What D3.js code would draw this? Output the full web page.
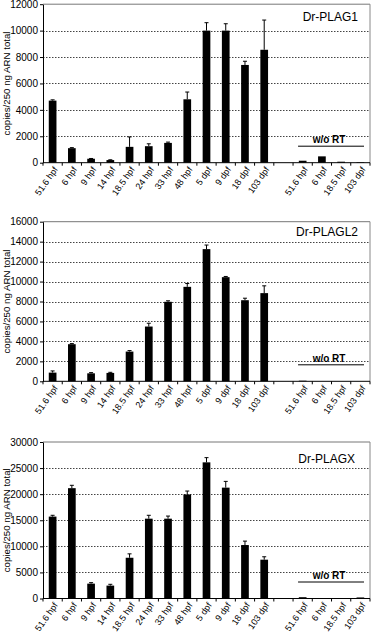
<!DOCTYPE html>
<html>
<head>
<meta charset="utf-8">
<script src="https://cdn.jsdelivr.net/npm/d3@7"></script>
<style>
  html, body { margin: 0; padding: 0; background: #fff; }
  svg { display: block; font-family: Arial, "Liberation Sans", sans-serif; }
</style>
</head>
<body>
<svg id="chart" width="372" height="637"></svg>
<script>
// ---- data ----
const mainCategories = ["51.6 hpf", "6 hpf", "9 hpf", "14 hpf", "18.5 hpf", "24 hpf", "33 hpf", "48 hpf", "5 dpf", "9 dpf", "18 dpf", "103 dpf"];
const rtCategories = ["51.6 hpf ", "6 hpf ", "18.5 hpf ", "103 dpf "];
const gapKey = "__gap__";

const plag1Values = [4700, 1100, 300, 200, 1200, 1250, 1500, 4800, 10000, 10000, 7400, 8550];
const plag1Errors = [60, 40, 20, 20, 750, 180, 60, 550, 600, 520, 280, 2250];
const plag1RtValues = [150, 480, 75, 40];

const plagl2Values = [870, 3720, 800, 840, 2980, 5490, 7970, 9470, 13250, 10440, 8130, 8840];
const plagl2Errors = [170, 60, 70, 60, 100, 330, 100, 330, 410, 70, 200, 730];
const plagl2RtValues = [60, 0, 0, 0];

const plagxValues = [15700, 21150, 2850, 2470, 7810, 15300, 15300, 19950, 26100, 21250, 10250, 7440];
const plagxErrors = [250, 550, 190, 250, 750, 650, 500, 650, 900, 1200, 750, 560];
const plagxRtValues = [250, 0, 0, 200];

const plag1Ticks = [0, 2000, 4000, 6000, 8000, 10000, 12000];
const plagl2Ticks = [0, 2000, 4000, 6000, 8000, 10000, 12000, 14000, 16000];
const plagxTicks = [0, 5000, 10000, 15000, 20000, 25000, 30000];

const yTitle = "copies/250 ng ARN total";
const rtLabel = "w/o RT";

// ---- layout ----
const panels = [
  { name: "Dr-PLAG1", values: plag1Values, errors: plag1Errors, rt: plag1RtValues, ticks: plag1Ticks,
    top: 4.2, bottom: 162.7, titleX: 358, titleY: 21 },
  { name: "Dr-PLAGL2", values: plagl2Values, errors: plagl2Errors, rt: plagl2RtValues, ticks: plagl2Ticks,
    top: 221.7, bottom: 381.3, titleX: 358, titleY: 236 },
  { name: "Dr-PLAGX", values: plagxValues, errors: plagxErrors, rt: plagxRtValues, ticks: plagxTicks,
    top: 442, bottom: 598.5, titleX: 355, titleY: 463 }
];
const left = 43, right = 370;

const svg = d3.select("#chart");
const domain = [...mainCategories, gapKey, ...rtCategories];
const pad = 0.6;
const x = d3.scaleBand().domain(domain).range([left, right]).paddingInner(pad).paddingOuter(pad / 2);
const step = x.step();

panels.forEach(p => {
  const g = svg.append("g");
  const y = d3.scaleLinear().domain([0, p.ticks[p.ticks.length - 1]]).range([p.bottom, p.top]);

  // gridlines
  g.append("g").selectAll("line").data(p.ticks.slice(1, -1)).join("line")
    .attr("x1", left).attr("x2", right)
    .attr("y1", d => Math.round(y(d)) + 0.5).attr("y2", d => Math.round(y(d)) + 0.5)
    .attr("stroke", "#444").attr("stroke-width", 1).attr("stroke-dasharray", "1.5,1.5");

  // top and right border
  g.append("line").attr("x1", left).attr("x2", right)
    .attr("y1", y(p.ticks[p.ticks.length - 1])).attr("y2", y(p.ticks[p.ticks.length - 1]))
    .attr("stroke", "#777").attr("stroke-width", 1);
  g.append("line").attr("x1", right).attr("x2", right)
    .attr("y1", p.top).attr("y2", p.bottom)
    .attr("stroke", "#888").attr("stroke-width", 1);

  // bars
  const rows = mainCategories.map((c, i) => ({ c, v: p.values[i], e: p.errors[i] }))
    .concat(rtCategories.map((c, i) => ({ c, v: p.rt[i], e: 0 })));
  g.append("g").selectAll("rect").data(rows.filter(r => r.v > 0)).join("rect")
    .attr("x", d => x(d.c)).attr("width", x.bandwidth())
    .attr("y", d => y(d.v)).attr("height", d => y(0) - y(d.v))
    .attr("fill", "#000");

  // error bars
  const eg = g.append("g").attr("stroke", "#000").attr("stroke-width", 1);
  rows.filter(r => r.e > 0).forEach(d => {
    const cx = x(d.c) + x.bandwidth() / 2;
    eg.append("line").attr("x1", cx).attr("x2", cx).attr("y1", y(d.v)).attr("y2", y(d.v + d.e));
    eg.append("line").attr("x1", cx - 2).attr("x2", cx + 2).attr("y1", y(d.v + d.e)).attr("y2", y(d.v + d.e));
  });

  // y axis
  const ya = g.append("g").attr("transform", `translate(${left},0)`)
    .call(d3.axisLeft(y).tickValues(p.ticks).tickFormat(d3.format("d")).tickSize(3).tickPadding(2).tickSizeOuter(0));
  ya.selectAll("text").attr("font-size", 10).attr("fill", "#000").attr("font-family", "Arial, 'Liberation Sans', sans-serif");
  ya.selectAll("line, path").attr("stroke", "#000");

  // x axis line and boundary ticks
  g.append("line").attr("x1", left).attr("x2", right).attr("y1", y(0)).attr("y2", y(0))
    .attr("stroke", "#000").attr("stroke-width", 1);
  const bounds = domain.map(d => x(d) - (step - x.bandwidth()) / 2).concat([right]);
  g.append("g").selectAll("line").data(bounds).join("line")
    .attr("x1", d => d).attr("x2", d => d).attr("y1", y(0)).attr("y2", y(0) + 3)
    .attr("stroke", "#000");

  // x labels
  g.append("g").selectAll("text").data(domain.filter(d => d !== gapKey)).join("text")
    .attr("transform", d => `translate(${x(d) + x.bandwidth() / 2 + 3},${y(0) + 5}) rotate(-55)`)
    .attr("text-anchor", "end").attr("dy", "0.35em")
    .attr("font-size", 9).attr("fill", "#000")
    .text(d => d.trim());

  // y title
  g.append("text")
    .attr("transform", `translate(10,${(p.top + p.bottom) / 2}) rotate(-90)`)
    .attr("text-anchor", "middle").attr("font-size", 9.7).attr("fill", "#000")
    .text(yTitle);

  // panel title
  g.append("text").attr("x", p.titleX).attr("y", p.titleY).attr("text-anchor", "end")
    .attr("font-size", 12).attr("fill", "#000").text(p.name);

  // w/o RT annotation
  const lx1 = x(rtCategories[0]) - (step - x.bandwidth()) / 2 + 5;
  const lx2 = right - 6;
  const ly = p.bottom - 16.5;
  g.append("line").attr("x1", lx1).attr("x2", lx2).attr("y1", ly).attr("y2", ly)
    .attr("stroke", "#000").attr("stroke-width", 1);
  g.append("text").attr("x", (lx1 + lx2) / 2 - 2).attr("y", ly - 3)
    .attr("text-anchor", "middle").attr("font-size", 10).attr("font-weight", "bold").attr("fill", "#000")
    .text(rtLabel);
});
</script>
</body>
</html>
